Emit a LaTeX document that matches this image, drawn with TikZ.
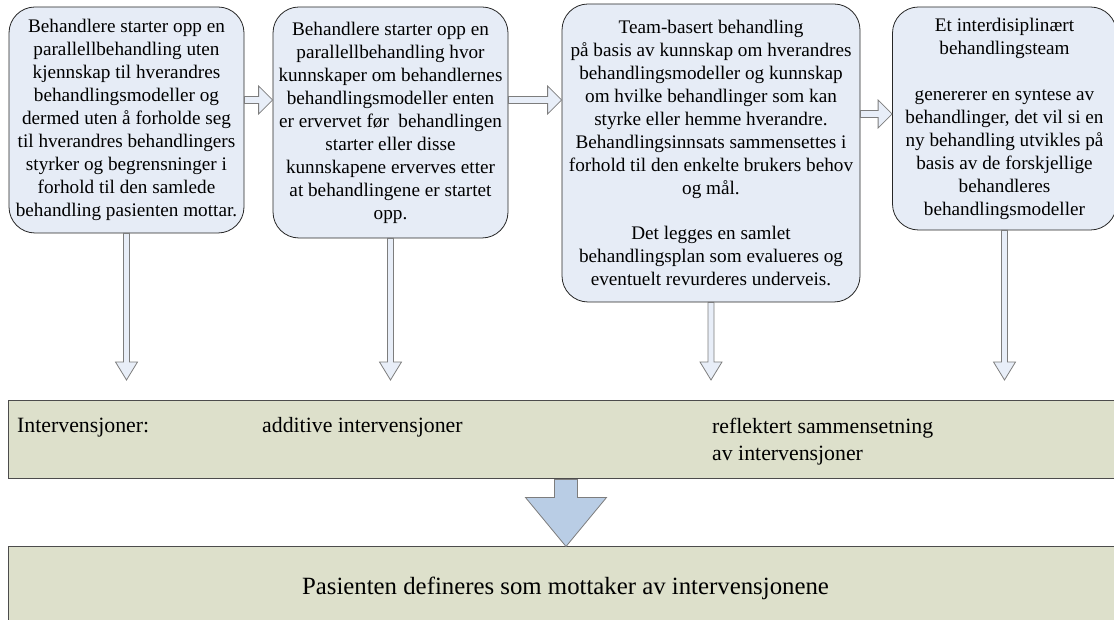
\documentclass[tikz,border=0pt]{standalone}
\usepackage{fontspec}
\setmainfont{Liberation Serif}
\usetikzlibrary{calc}

\definecolor{boxblue}{RGB}{230,236,246}
\definecolor{bandgreen}{RGB}{221,224,203}
\definecolor{arrowfill}{RGB}{232,238,248}
\definecolor{bigfill}{RGB}{185,205,229}
\definecolor{arrowline}{RGB}{125,125,125}

\begin{document}
\begin{tikzpicture}[x=1pt, y=1pt,
    box/.style={draw=black!85, rounded corners=26pt, fill=boxblue, align=center, inner sep=0pt, line width=0.8pt, font=\fontsize{19.2}{23}\selectfont},
    band/.style={draw=black!70, fill=bandgreen, inner sep=0pt, line width=1pt, font=\fontsize{24.8}{28}\selectfont},
    lbl/.style={inner sep=0pt, align=left, font=\fontsize{21.8}{27}\selectfont},
    rarrow/.style n args={3}{draw=arrowline, fill=arrowfill, line width=0.8pt,
      to path={let \p1=(\tikztostart), \p2=(\tikztotarget) in
        (\x1,\y1+#1) -- (\x2-#3,\y1+#1) -- (\x2-#3,\y1+#2) -- (\x2,\y1)
        -- (\x2-#3,\y1-#2) -- (\x2-#3,\y1-#1) -- (\x1,\y1-#1) -- cycle}},
    darrow/.style n args={3}{draw=arrowline, fill=arrowfill, line width=0.8pt,
      to path={let \p1=(\tikztostart), \p2=(\tikztotarget) in
        (\x1-#1,\y1) -- (\x1-#1,\y2+#3) -- (\x1-#2,\y2+#3) -- (\x1,\y2)
        -- (\x1+#2,\y2+#3) -- (\x1+#1,\y2+#3) -- (\x1+#1,\y1) -- cycle}}
]
\useasboundingbox (0,0) rectangle (1114,620);

% Nodes
\node[box, minimum width=235, minimum height=226] (parallel) at (126.5,500)
  {Behandlere starter opp en\\parallellbehandling uten\\kjennskap til hverandres\\behandlingsmodeller og\\dermed uten å forholde seg\\til hverandres behandlingers\\styrker og begrensninger i\\forhold til den samlede\\behandling pasienten mottar.};
\node[box, minimum width=235, minimum height=231] (informed) at (390.5,497.5)
  {Behandlere starter opp en\\parallellbehandling hvor\\kunnskaper om behandlernes\\behandlingsmodeller enten\\er ervervet før\ \ behandlingen\\starter eller disse\\kunnskapene erverves etter\\at behandlingene er startet\\opp.};
\node[box, minimum width=298, minimum height=298] (team) at (711,467)
  {Team-basert behandling\\på basis av kunnskap om hverandres\\behandlingsmodeller og kunnskap\\om hvilke behandlinger som kan\\styrke eller hemme hverandre.\\Behandlingsinnsats sammensettes i\\forhold til den enkelte brukers behov\\og mål.\\[22.5pt]Det legges en samlet\\behandlingsplan som evalueres og\\eventuelt revurderes underveis.};
\node[box, minimum width=224, minimum height=223] (synthesis) at (1004.5,501.5)
  {Et interdisiplinært\\behandlingsteam\\[23pt]genererer en syntese av\\behandlinger, det vil si en\\ny behandling utvikles på\\basis av de forskjellige\\behandleres\\behandlingsmodeller};

\node[band, minimum width=1116, minimum height=78] (interv) at (566,180) {};
\node[lbl, anchor=base west] (ivtitle) at (17,187) {Intervensjoner:};
\node[lbl, anchor=base west] (additive) at (262,187) {additive intervensjoner};
\node[lbl, anchor=west] (reflected) at (712,178.5) {reflektert sammensetning\\av intervensjoner};

\node[band, minimum width=1115, minimum height=82] (patient) at (565.5,32)
  {Pasienten defineres som mottaker av intervensjonene};

\coordinate (tips) at (0,240);

% Arrows
\draw[rarrow={3.5pt}{14pt}{14pt}] ([yshift=20pt]parallel.east) to (informed.west);
\draw[rarrow={3.5pt}{14pt}{14pt}] ([yshift=22.5pt]informed.east) to (team.west);
\draw[rarrow={3.5pt}{14pt}{14pt}] ([yshift=39pt]team.east) to (synthesis.west);

\draw[darrow={3pt}{11pt}{18pt}] (parallel.south) to (parallel.south |- tips);
\draw[darrow={3pt}{11pt}{18pt}] (informed.south) to (informed.south |- tips);
\draw[darrow={3pt}{11pt}{18pt}] (team.south) to (team.south |- tips);
\draw[darrow={3pt}{11pt}{18pt}] (synthesis.south) to (synthesis.south |- tips);

\draw[darrow={11.5pt}{40.5pt}{49pt}, fill=bigfill] (interv.south) to (patient.north);
\end{tikzpicture}
\end{document}
